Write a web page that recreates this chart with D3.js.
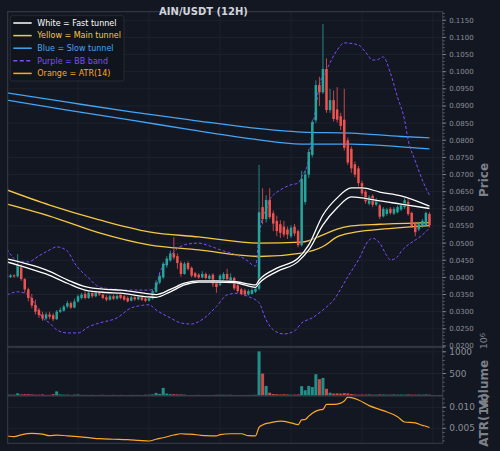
<!DOCTYPE html>
<html>
<head>
<meta charset="utf-8">
<script src="https://cdn.jsdelivr.net/npm/d3@7"></script>
<style>
  body { margin: 0; background: #131722; }
  svg { display: block; font-family: "DejaVu Sans", sans-serif; }
</style>
</head>
<body>
<svg id="chart" width="500" height="451"></svg>
<script>
// ---- data ----
// one row per 12H candle: [open, high, low, close]
const ohlc = [
  [.0406,.0412,.0398,.0401],[.0401,.0410,.0398,.0406],[.0406,.0409,.0399,.0403],[.0403,.0468,.0400,.0435],
  [.0430,.0438,.0390,.0395],[.0395,.0398,.0355,.0365],[.0365,.0370,.0330,.0340],[.0340,.0352,.0310,.0318],
  [.0320,.0335,.0292,.0300],[.0305,.0311,.0282,.0290],[.0292,.0300,.0274,.0280],[.0280,.0298,.0275,.0292],
  [.0292,.0300,.0278,.0285],[.0290,.0296,.0272,.0278],[.0278,.0305,.0276,.0300],[.0300,.0312,.0296,.0305],
  [.0303,.0320,.0300,.0315],[.0315,.0332,.0310,.0325],[.0325,.0330,.0308,.0312],[.0312,.0338,.0310,.0330],
  [.0330,.0350,.0326,.0345],[.0340,.0355,.0336,.0350],[.0352,.0360,.0336,.0340],[.0340,.0360,.0337,.0355],
  [.0355,.0362,.0340,.0345],[.0345,.0362,.0342,.0358],[.0357,.0360,.0346,.0350],[.0350,.0354,.0336,.0340],
  [.0342,.0348,.0330,.0335],[.0335,.0349,.0332,.0345],[.0345,.0350,.0334,.0338],[.0338,.0350,.0335,.0346],
  [.0350,.0357,.0336,.0340],[.0345,.0350,.0332,.0335],[.0340,.0345,.0327,.0330],[.0332,.0346,.0330,.0342],
  [.0342,.0347,.0332,.0336],[.0336,.0348,.0333,.0344],[.0344,.0348,.0331,.0335],[.0338,.0342,.0328,.0332],
  [.0332,.0345,.0330,.0340],[.0338,.0365,.0335,.0360],[.0358,.0392,.0355,.0385],[.0385,.0410,.0380,.0405],
  [.0400,.0445,.0395,.0440],[.0435,.0462,.0428,.0455],[.0450,.0478,.0445,.0470],[.0470,.0517,.0452,.0458],
  [.0462,.0470,.0425,.0442],[.0442,.0448,.0402,.0410],[.0410,.0445,.0408,.0440],[.0442,.0447,.0420,.0425],
  [.0428,.0432,.0400,.0405],[.0412,.0416,.0398,.0402],[.0408,.0412,.0395,.0400],[.0400,.0418,.0397,.0410],
  [.0410,.0414,.0394,.0398],[.0396,.0410,.0392,.0405],[.0408,.0412,.0372,.0380],[.0385,.0390,.0355,.0372],
  [.0378,.0410,.0375,.0405],[.0395,.0415,.0390,.0410],[.0410,.0425,.0390,.0395],[.0390,.0412,.0385,.0400],
  [.0398,.0402,.0363,.0368],[.0377,.0382,.0355,.0360],[.0365,.0370,.0348,.0352],[.0362,.0367,.0345,.0350],
  [.0350,.0365,.0347,.0360],[.0352,.0368,.0350,.0363],[.0358,.0372,.0355,.0368],[.0367,.0728,.0362,.0590],
  [.0605,.0660,.0555,.0570],[.0570,.0640,.0560,.0626],[.0626,.0660,.0570,.0576],[.0587,.0595,.0535,.0557],
  [.0565,.0580,.0520,.0535],[.0555,.0567,.0515,.0530],[.0548,.0565,.0518,.0525],[.0540,.0548,.0512,.0525],
  [.0520,.0552,.0515,.0545],[.0548,.0556,.0520,.0528],[.0535,.0540,.0488,.0494],[.0494,.0711,.0490,.0688],
  [.0620,.0712,.0612,.0700],[.0700,.0775,.0690,.0766],[.0757,.0860,.0750,.0853],[.0858,.0975,.0850,.0961],
  [.0961,.0985,.0900,.0940],[.0940,.1139,.0935,.1008],[.1008,.1039,.0880,.0888],[.0888,.0950,.0880,.0917],
  [.0917,.0945,.0855,.0862],[.0890,.0955,.0852,.0860],[.0870,.0880,.0830,.0842],[.0860,.0950,.0770,.0778],
  [.0800,.0808,.0728,.0735],[.0775,.0782,.0705,.0718],[.0730,.0738,.0692,.0700],[.0718,.0725,.0665,.0675],
  [.0675,.0682,.0638,.0645],[.0650,.0655,.0615,.0622],[.0615,.0640,.0610,.0635],[.0638,.0642,.0605,.0612],
  [.0612,.0632,.0608,.0625],[.0610,.0615,.0570,.0577],[.0578,.0605,.0575,.0600],[.0585,.0603,.0580,.0598],
  [.0600,.0605,.0583,.0588],[.0586,.0605,.0582,.0600],[.0590,.0610,.0587,.0605],[.0598,.0617,.0594,.0612],
  [.0605,.0632,.0600,.0625],[.0620,.0630,.0580,.0585],[.0588,.0592,.0545,.0550],[.0558,.0562,.0520,.0532],
  [.0540,.0560,.0535,.0555],[.0550,.0570,.0545,.0565],[.0552,.0592,.0548,.0588],[.0585,.0590,.0545,.0552]
];

// volume per candle, millions
const volume = [
  20,15,15,45,20,25,25,20,15,15,20,10,10,25,90,20,15,15,10,15,
  20,10,10,8,10,8,10,12,8,8,10,8,10,8,8,10,8,10,8,12,
  15,20,55,30,170,40,25,25,20,20,15,8,8,8,10,8,8,8,8,12,
  12,12,10,12,8,8,8,8,10,10,12,1010,500,215,60,30,25,20,25,20,
  15,15,20,210,115,215,190,485,370,400,150,60,40,45,40,50,45,30,20,15,
  18,15,20,15,15,20,18,15,15,20,15,18,15,20,15,15,18,15,20,15
];

// indicator lines, [candle index, value]
const fastUpper = [[0,.0454],[5,.0441],[11,.0422],[17,.0393],[22,.0373],[28,.0365],[32,.0363],[40,.0352],[42,.0350],
  [46,.0365],[50,.0383],[54,.0390],[59,.0390],[64,.0388],[70,.0378],[71,.0392],[76,.0427],[82,.0456],[85,.0495],
  [89,.0582],[93,.0632],[97,.0661],[100,.0661],[105,.0649],[111,.0638],[119,.0608]];
const fastLower = [[0,.0445],[5,.0430],[11,.0410],[17,.0383],[22,.0363],[28,.0356],[32,.0354],[40,.0343],[42,.0342],
  [46,.0358],[50,.0378],[54,.0386],[59,.0386],[64,.0385],[70,.0371],[71,.0383],[76,.0417],[82,.0446],[85,.0480],
  [89,.0553],[93,.0603],[97,.0635],[100,.0632],[105,.0623],[111,.0614],[119,.0601]];
const mainUpper = [[0,.0655],[12,.0611],[26,.0568],[40,.0533],[54,.0518],[71,.0500],[83,.0503],[89,.0524],
  [93,.0541],[97,.0550],[105,.0555],[119,.0560]];
const mainLower = [[0,.0614],[12,.0579],[26,.0530],[40,.0495],[54,.0480],[71,.0461],[83,.0471],[89,.0490],
  [93,.0518],[97,.0530],[105,.0540],[119,.0551]];
const slowUpper = [[0,.0938],[17,.0911],[35,.0883],[52,.0859],[69,.0836],[83,.0824],[97,.0821],[111,.0811],[119,.0807]];
const slowLower = [[0,.0917],[17,.0888],[35,.0859],[52,.0830],[69,.0804],[83,.0789],[97,.0789],[111,.0781],[119,.0775]];
const bbUpper = [[0,.0483],[3,.0448],[6,.0445],[9,.0463],[12,.0480],[14,.0489],[17,.0477],[19,.0442],[23,.0398],
  [26,.0372],[30,.0366],[36,.0363],[40,.0363],[42,.0372],[43,.0413],[45,.0445],[47,.0474],[50,.0495],[54,.0500],
  [57,.0492],[61,.0477],[64,.0468],[67,.0454],[70,.0433],[71,.0520],[72,.0575],[73,.0597],[74,.0626],[77,.0655],
  [80,.0670],[82,.0675],[83,.0693],[85,.0743],[86,.0830],[87,.0894],[88,.0961],[90,.1005],[93,.1063],[95,.1084],
  [99,.1078],[101,.1057],[103,.1034],[104,.1034],[106,.1043],[108,.0996],[110,.0926],[112,.0859],[113,.0801],
  [115,.0740],[117,.0684],[119,.0640]];
const bbLower = [[0,.0349],[3,.0358],[6,.0349],[8,.0320],[10,.0282],[12,.0267],[14,.0247],[17,.0238],[20,.0238],
  [23,.0256],[26,.0267],[31,.0282],[35,.0311],[40,.0320],[42,.0305],[46,.0282],[49,.0267],[52,.0264],[54,.0271],
  [59,.0315],[62,.0349],[65,.0354],[68,.0344],[71,.0326],[73,.0276],[75,.0247],[78,.0235],[81,.0244],[83,.0267],
  [86,.0282],[89,.0305],[92,.0334],[96,.0402],[99,.0451],[102,.0509],[103,.0514],[105,.0500],[107,.0463],
  [108,.0451],[110,.0460],[111,.0475],[113,.0495],[115,.0509],[117,.0524],[119,.0544]];
const atr14 = [[0,.00317],[2,.0030],[4,.00345],[7,.0038],[10,.0036],[12,.00324],[14,.0034],[17,.0032],[20,.0030],
  [23,.00276],[26,.00252],[30,.0024],[34,.0023],[37,.00214],[40,.00198],[42,.0024],[44,.00276],[47,.0034],
  [49,.0037],[51,.0036],[54,.0034],[56,.00324],[59,.0032],[60,.00348],[63,.0037],[66,.0037],[68,.00324],
  [70,.0032],[71,.00524],[72,.0058],[74,.0063],[77,.0067],[80,.0063],[82,.00586],[83,.0070],[84,.0071],
  [85,.0079],[86,.0086],[88,.0094],[89,.0095],[90,.0107],[92,.0107],[94,.0110],[95,.0115],[96,.0124],
  [99,.01174],[102,.0104],[106,.0092],[110,.00776],[112,.0065],[115,.0063],[117,.0057],[118,.0055],[119,.0052]];

const priceTicks = d3.range(0.02, 0.1151, 0.005);
const volTicks = [500, 1000];
const atrTicks = [0.005, 0.010];
const dateGrid = [20, 40, 60, 80, 100, 120];

const legendItems = [
  { label: "White = Fast tunnel", color: "#ffffff", dash: null },
  { label: "Yellow = Main tunnel", color: "#f5c842", dash: null },
  { label: "Blue = Slow tunnel", color: "#42a5f5", dash: null },
  { label: "Purple = BB band", color: "#7c4dff", dash: "4,2.5" },
  { label: "Orange = ATR(14)", color: "#ffa726", dash: null }
];

// ---- layout ----
const up = "#26a69a", down = "#ef5350";
const gridCol = "#1f2431", spineCol = "#3a3e48", tickCol = "#8a8e96";
const left = 7.7, right = 442.7;
const pTop = 11.7, pBot = 347, vTop = 347, vBot = 395.5, aTop = 396, aBot = 443.3;

const svg = d3.select("#chart");
svg.append("rect").attr("width", 500).attr("height", 451).attr("fill", "#131722");

const x = d3.scaleLinear().domain([0, 120]).range([7, 433]);
const yP = d3.scaleLinear().domain([0.0197, 0.1175]).range([pBot, pTop]);
const yV = d3.scaleLinear().domain([0, 1110]).range([395.3, vTop]);
const yA = d3.scaleLinear().domain([0.00143, 0.01269]).range([aBot, aTop]);

const defs = svg.append("defs");
function clip(id, t, b) {
  defs.append("clipPath").attr("id", id).append("rect")
    .attr("x", left).attr("y", t).attr("width", right - left).attr("height", b - t);
}
clip("cp", pTop, pBot); clip("cv", vTop, vBot); clip("ca", aTop, aBot);

// grids
function panelGrid(t, b, yScale, ticks) {
  const g = svg.append("g");
  g.selectAll(".gx").data(dateGrid).join("line")
    .attr("x1", d => x(d)).attr("x2", d => x(d)).attr("y1", t).attr("y2", b)
    .attr("stroke", gridCol).attr("stroke-width", 0.8);
  g.selectAll(".gy").data(ticks).join("line")
    .attr("x1", left).attr("x2", right).attr("y1", d => yScale(d)).attr("y2", d => yScale(d))
    .attr("stroke", gridCol).attr("stroke-width", 0.8);
}
panelGrid(pTop, pBot, yP, priceTicks);
panelGrid(vTop, vBot, yV, volTicks);
panelGrid(aTop, aBot, yA, atrTicks);

// price panel
const gp = svg.append("g").attr("clip-path", "url(#cp)");
const line = d3.line().x(d => x(d[0])).y(d => yP(d[1])).curve(d3.curveMonotoneX);

function drawLine(data, color, w, dash) {
  gp.append("path").datum(data).attr("d", line)
    .attr("fill", "none").attr("stroke", color).attr("stroke-width", w)
    .attr("stroke-dasharray", dash);
}
drawLine(slowUpper, "#42a5f5", 1.3);
drawLine(slowLower, "#42a5f5", 1.3);
drawLine(mainUpper, "#f5c842", 1.3);
drawLine(mainLower, "#f5c842", 1.3);
drawLine(bbUpper, "#7c4dff", 1, "3,2");
drawLine(bbLower, "#7c4dff", 1, "3,2");

const cg = gp.selectAll(".candle").data(ohlc).join("g");
cg.append("line")
  .attr("x1", (d, i) => x(i)).attr("x2", (d, i) => x(i))
  .attr("y1", d => yP(d[1])).attr("y2", d => yP(d[2]))
  .attr("stroke", d => d[3] >= d[0] ? up : down).attr("stroke-width", 0.8);
cg.append("rect")
  .attr("x", (d, i) => x(i) - 1.25).attr("width", 2.5)
  .attr("y", d => yP(Math.max(d[0], d[3])))
  .attr("height", d => Math.max(0.6, Math.abs(yP(d[0]) - yP(d[3]))))
  .attr("fill", d => d[3] >= d[0] ? up : down);

// white tunnel drawn with a dark edge
[fastUpper, fastLower].forEach(d => {
  gp.append("path").datum(d).attr("d", line).attr("fill", "none")
    .attr("stroke", "#131722").attr("stroke-width", 2.6).attr("stroke-opacity", 0.6);
});
drawLine(fastUpper, "#ffffff", 1.3);
drawLine(fastLower, "#ffffff", 1.3);

// volume panel
svg.append("g").attr("clip-path", "url(#cv)")
  .selectAll("rect").data(volume).join("rect")
  .attr("x", (d, i) => x(i) - 1.5).attr("width", 3)
  .attr("y", d => yV(d)).attr("height", d => yV(0) - yV(d))
  .attr("fill", (d, i) => ohlc[i][3] >= ohlc[i][0] ? up : down)
  .attr("fill-opacity", 0.85);

// atr panel
svg.append("g").attr("clip-path", "url(#ca)")
  .append("path").datum(atr14)
  .attr("d", d3.line().x(d => x(d[0])).y(d => yA(d[1])).curve(d3.curveMonotoneX))
  .attr("fill", "none").attr("stroke", "#ffa726").attr("stroke-width", 1.2);

// frames
[[pTop, pBot], [vTop, vBot], [aTop, aBot]].forEach(([t, b]) => {
  svg.append("rect").attr("x", left).attr("y", t).attr("width", right - left).attr("height", b - t)
    .attr("fill", "none").attr("stroke", spineCol).attr("stroke-width", 1);
});

// right axes
function rightAxis(scale, ticks, fmt, minor, size) {
  const g = svg.append("g");
  g.selectAll(".mt").data(minor).join("line")
    .attr("x1", right).attr("x2", right + 2).attr("y1", d => scale(d)).attr("y2", d => scale(d))
    .attr("stroke", tickCol).attr("stroke-width", 0.6);
  g.selectAll(".t").data(ticks).join("line")
    .attr("x1", right).attr("x2", right + 3.5).attr("y1", d => scale(d)).attr("y2", d => scale(d))
    .attr("stroke", tickCol).attr("stroke-width", 0.8);
  g.selectAll("text").data(ticks).join("text")
    .attr("x", right + 6.5).attr("y", d => scale(d)).attr("dy", "0.35em")
    .attr("font-size", size).attr("fill", tickCol).text(fmt);
}
rightAxis(yP, priceTicks, d3.format(".4f"), d3.range(0.02, 0.1171, 0.001), 7);
rightAxis(yV, volTicks, d3.format("d"), d3.range(100, 1101, 100), 9);
rightAxis(yA, atrTicks, d3.format(".3f"), d3.range(0.002, 0.0126, 0.001), 9);

// axis labels (rotated)
function vlabel(text, cx, cy, size) {
  svg.append("text").attr("transform", `translate(${cx},${cy}) rotate(-90)`)
    .attr("text-anchor", "middle").attr("dy", "0.35em")
    .attr("font-size", size).attr("font-weight", "bold").attr("fill", "#7d818a").text(text);
}
vlabel("Price", 484, 180, 12);
vlabel("Volume", 484, 385, 12);
vlabel("ATR(14)", 484, 420, 12);
svg.append("text").attr("transform", "translate(484,341) rotate(-90)")
  .attr("text-anchor", "middle").attr("dy", "0.35em").attr("font-size", 9.5).attr("fill", "#7d818a")
  .html("10<tspan dy='-0.4em' font-size='7'>6</tspan>");

// title
svg.append("text").attr("x", 203.5).attr("y", 15).attr("text-anchor", "middle")
  .attr("font-size", 10).attr("font-weight", "bold").attr("fill", "#d1d4dc").text("AIN/USDT (12H)");

// legend
const lg = svg.append("g");
lg.append("rect").attr("x", 10.3).attr("y", 15.7).attr("width", 113.7).attr("height", 65.3).attr("rx", 2)
  .attr("fill", "#11151d").attr("fill-opacity", 0.9).attr("stroke", "#2c3039").attr("stroke-width", 0.8);
const li = lg.selectAll(".li").data(legendItems).join("g")
  .attr("transform", (d, i) => `translate(0,${23 + i * 12.6})`);
li.append("line").attr("x1", 13.3).attr("x2", 31.7)
  .attr("stroke", d => d.color).attr("stroke-width", 1.5).attr("stroke-dasharray", d => d.dash);
li.append("text").attr("x", 37.3).attr("dy", "0.35em").attr("font-size", 8)
  .attr("fill", d => d.color).text(d => d.label);
</script>
</body>
</html>
